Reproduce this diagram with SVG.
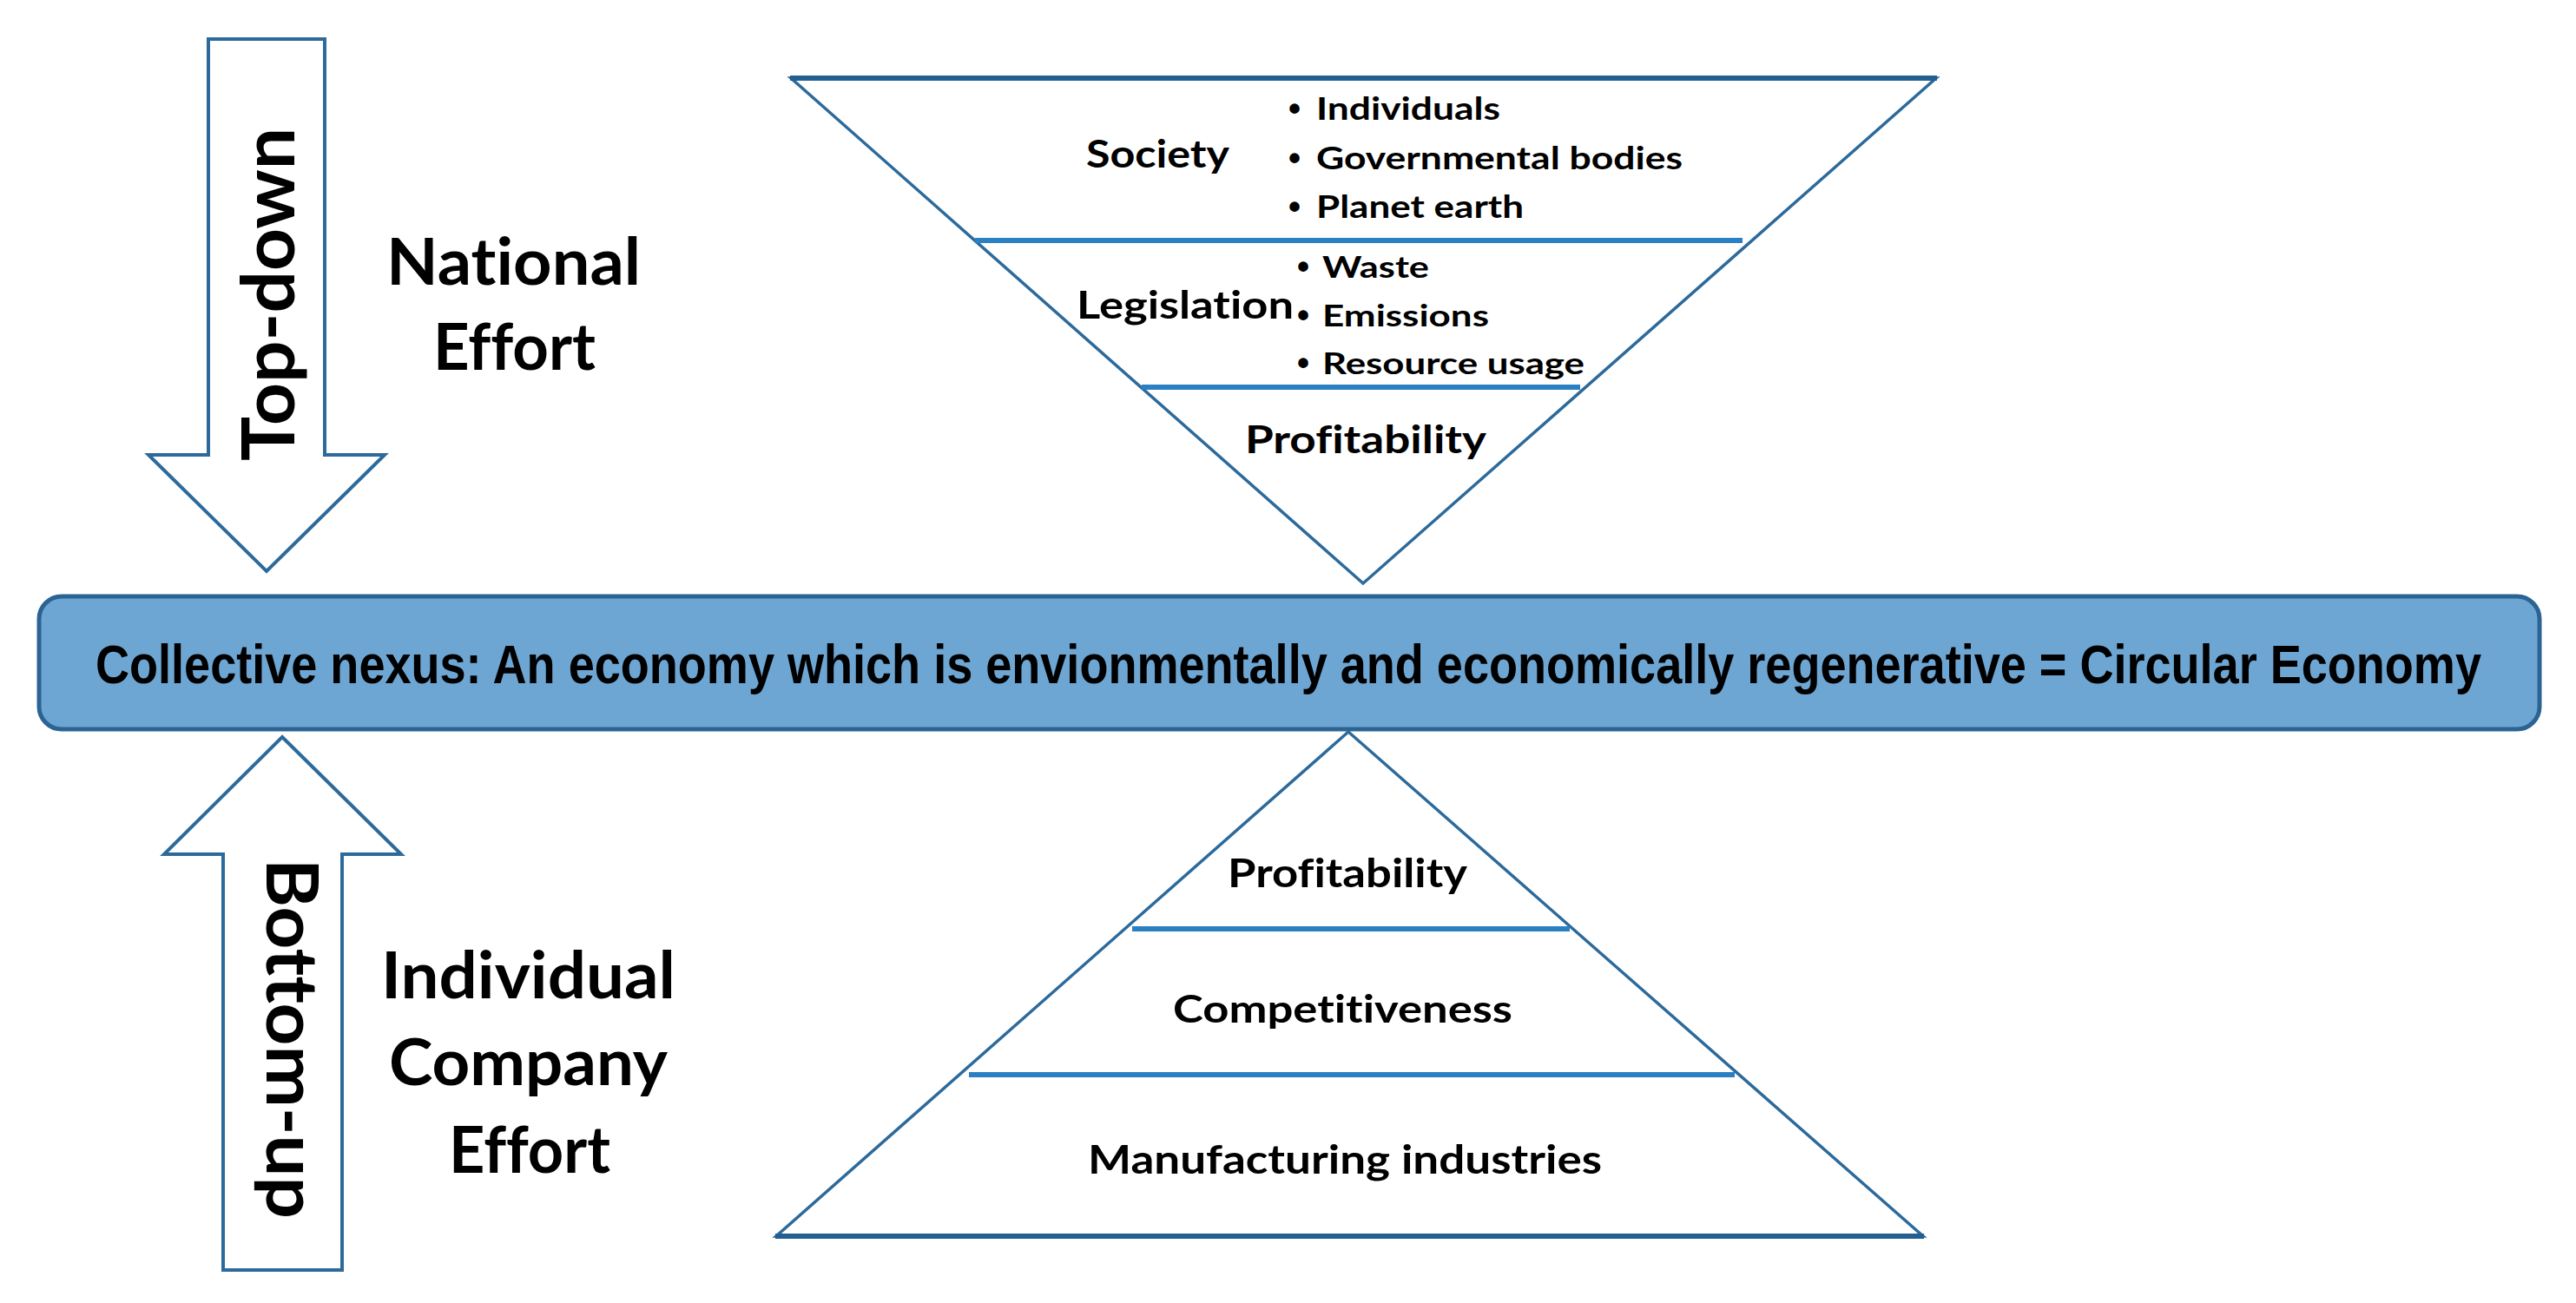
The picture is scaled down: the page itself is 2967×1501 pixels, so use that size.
<svg xmlns="http://www.w3.org/2000/svg" width="2967" height="1501" viewBox="0 0 2967 1501">
<style>
.t{font-family:Lato,"Open Sans","Liberation Sans",sans-serif;font-weight:bold;fill:#000;font-variant-ligatures:none}
.b{font-family:"Liberation Sans",Arial,sans-serif;font-weight:bold;fill:#000;font-size:40px}
.bar{font-family:"Liberation Sans",Arial,sans-serif;font-weight:bold;fill:#000}
.arrow{fill:#fff;stroke:#2c6a9b;stroke-width:4;stroke-linejoin:miter}
.side{fill:#fff;stroke:#2c6a9b;stroke-width:3.5}
.base{stroke:#245f92;stroke-width:6;fill:none}
.div{stroke:#2a80c2;stroke-width:6;fill:none}
</style>
<rect width="2967" height="1501" fill="#fff"/>
<g id="connectors">
  <g id="arrow-topdown">
    <polygon class="arrow" points="240,45 374,45 374,524 443,524 307,658 171,524 240,524"/>
    <text class="t" font-size="85" transform="translate(339,531) rotate(-90)" textLength="384" lengthAdjust="spacingAndGlyphs">Top-down</text>
  </g>
  <g id="arrow-bottomup">
    <polygon class="arrow" points="325,849 462,984 394,984 394,1463 257,1463 257,984 189,984"/>
    <text class="t" font-size="83" transform="translate(307,989) rotate(90)" textLength="415" lengthAdjust="spacingAndGlyphs">Bottom-up</text>
  </g>
</g>
<g id="national-effort">
  <text class="t" font-size="74" x="445" y="328" textLength="293" lengthAdjust="spacingAndGlyphs">National</text>
  <text class="t" font-size="74" x="499" y="426" textLength="187" lengthAdjust="spacingAndGlyphs">Effort</text>
</g>
<g id="individual-effort">
  <text class="t" font-size="75" x="439" y="1150" textLength="339" lengthAdjust="spacingAndGlyphs">Individual</text>
  <text class="t" font-size="75" x="448" y="1250" textLength="321" lengthAdjust="spacingAndGlyphs">Company</text>
  <text class="t" font-size="75" x="517" y="1351" textLength="186" lengthAdjust="spacingAndGlyphs">Effort</text>
</g>
<g id="nexus">
  <rect x="45" y="687" width="2880" height="153" rx="26" ry="26" fill="#6ea6d3" stroke="#2b6494" stroke-width="5"/>
  <text class="bar" font-size="63" x="110" y="787" textLength="2748" lengthAdjust="spacingAndGlyphs">Collective nexus: An economy which is envionmentally and economically regenerative = Circular Economy</text>
</g>
<g id="inverted-pyramid">
  <polygon class="side" points="911,90 2230,90 1570,672"/>
  <line class="base" x1="910" y1="90" x2="2231" y2="90"/>
  <line class="div" x1="1123" y1="277" x2="2007" y2="277"/>
  <line class="div" x1="1315" y1="446" x2="1820" y2="446"/>
  <text class="t" font-size="43" x="1251" y="193" textLength="165" lengthAdjust="spacingAndGlyphs">Society</text>
  <text class="b" x="1484" y="139">•</text>
  <text class="t" font-size="36" x="1516" y="138" textLength="212" lengthAdjust="spacingAndGlyphs">Individuals</text>
  <text class="b" x="1484" y="196">•</text>
  <text class="t" font-size="36" x="1516" y="195" textLength="422" lengthAdjust="spacingAndGlyphs">Governmental bodies</text>
  <text class="b" x="1484" y="252">•</text>
  <text class="t" font-size="36" x="1516" y="251" textLength="239" lengthAdjust="spacingAndGlyphs">Planet earth</text>
  <text class="t" font-size="44" x="1240" y="367" textLength="250" lengthAdjust="spacingAndGlyphs">Legislation</text>
  <text class="b" x="1494" y="321">•</text>
  <text class="t" font-size="35" x="1523" y="320" textLength="123" lengthAdjust="spacingAndGlyphs">Waste</text>
  <text class="b" x="1494" y="377">•</text>
  <text class="t" font-size="35" x="1523" y="376" textLength="192" lengthAdjust="spacingAndGlyphs">Emissions</text>
  <text class="b" x="1494" y="432">•</text>
  <text class="t" font-size="35" x="1523" y="431" textLength="302" lengthAdjust="spacingAndGlyphs">Resource usage</text>
  <text class="t" font-size="43" x="1434" y="522" textLength="278" lengthAdjust="spacingAndGlyphs">Profitability</text>
</g>
<g id="pyramid">
  <polygon class="side" points="1553,843 2215,1424 894,1424"/>
  <line class="base" x1="893" y1="1424" x2="2216" y2="1424"/>
  <line class="div" x1="1304" y1="1070" x2="1808" y2="1070"/>
  <line class="div" x1="1116" y1="1238" x2="1998" y2="1238"/>
  <text class="t" font-size="45" x="1414" y="1022" textLength="276" lengthAdjust="spacingAndGlyphs">Profitability</text>
  <text class="t" font-size="44" x="1351" y="1178" textLength="391" lengthAdjust="spacingAndGlyphs">Competitiveness</text>
  <text class="t" font-size="45" x="1253" y="1352" textLength="592" lengthAdjust="spacingAndGlyphs">Manufacturing industries</text>
</g>
</svg>
